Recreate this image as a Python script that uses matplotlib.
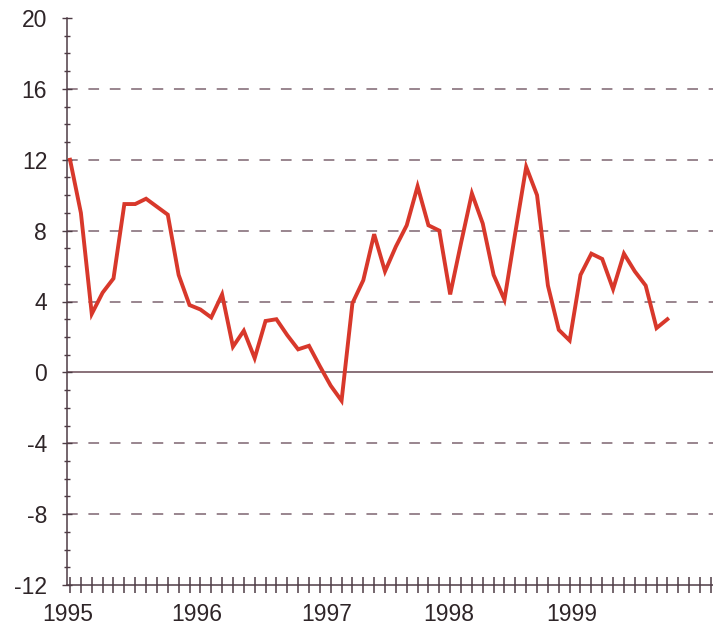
import matplotlib
matplotlib.use("Agg")
import matplotlib.pyplot as plt
import numpy as np

# monthly values, Jan 1995 .. Aug 1999
values = [
    12.0, 9.0, 3.3, 4.5, 5.3, 9.5, 9.5, 9.8, 9.35, 8.9, 5.5, 3.8,
    3.55, 3.1, 4.4, 1.45, 2.35, 0.8, 2.9, 3.0, 2.1, 1.3, 1.5, 0.35,
    -0.75, -1.6, 3.9, 5.2, 7.8, 5.7, 7.1, 8.3, 10.5, 8.3, 8.0, 4.4,
    7.3, 10.1, 8.4, 5.5, 4.1, 7.9, 11.6, 10.0, 4.9, 2.4, 1.8, 5.5,
    6.7, 6.4, 4.7, 6.7, 5.7, 4.9, 2.5, 3.0,
]
years = ["1995", "1996", "1997", "1998", "1999"]
y_ticks = [20, 16, 12, 8, 4, 0, -4, -8, -12]
grid_levels = [16, 12, 8, 4, -4, -8]

# layout
W, H = 713, 629
AX_L, AX_T, AX_B = 67, 18, 585
year_pos = [-0.2, 11.7, 23.6, 34.9, 46.2]  # labels sit a bit left of January
n_ticks = 60

TEXT = "#2e2528"
AXIS = "#4e3c45"
GRID = "#7d6470"
RED = "#d8382b"

fig = plt.figure(figsize=(W / 100, H / 100), dpi=100)
ax = fig.add_axes([AX_L / W, 1 - AX_B / H, 1 - AX_L / W, (AX_B - AX_T) / H])

months = np.arange(len(values))

for g in grid_levels:
    ax.axhline(g, color=GRID, lw=1.1, dashes=(7, 7), zorder=1)
ax.axhline(0, color="#6a4a55", lw=1.1, zorder=1)

ax.plot(months, values, color=RED, lw=2.8, solid_joinstyle="miter", zorder=3)

ax.set_xlim(-0.28, 59.2)
ax.set_ylim(-12, 20)

for s in ["top", "right"]:
    ax.spines[s].set_visible(False)
for s in ["left", "bottom"]:
    ax.spines[s].set_color(AXIS)
    ax.spines[s].set_linewidth(1.1)

ax.set_yticks(y_ticks)
ax.set_yticklabels([str(t) for t in y_ticks])
ax.set_yticks(np.arange(-12, 21, 1), minor=True)
ax.tick_params(axis="y", which="major", direction="inout", length=7.5, width=1.0,
               color=AXIS, pad=10.5, labelsize=16.5, labelcolor=TEXT)
ax.tick_params(axis="y", which="minor", direction="inout", length=4.5, width=1.0,
               color=AXIS)

ax.set_xticks(year_pos)
ax.set_xticklabels(years)
ax.set_xticks(np.arange(0, n_ticks), minor=True)
ax.tick_params(axis="x", which="major", length=0, pad=13, labelsize=16.5,
               labelcolor=TEXT)
ax.tick_params(axis="x", which="minor", direction="inout", length=11.5, width=1.1,
               color=AXIS)

for lab in ax.get_xticklabels() + ax.get_yticklabels():
    lab.set_family("Liberation Sans")

fig.savefig("out.png", dpi=100)
